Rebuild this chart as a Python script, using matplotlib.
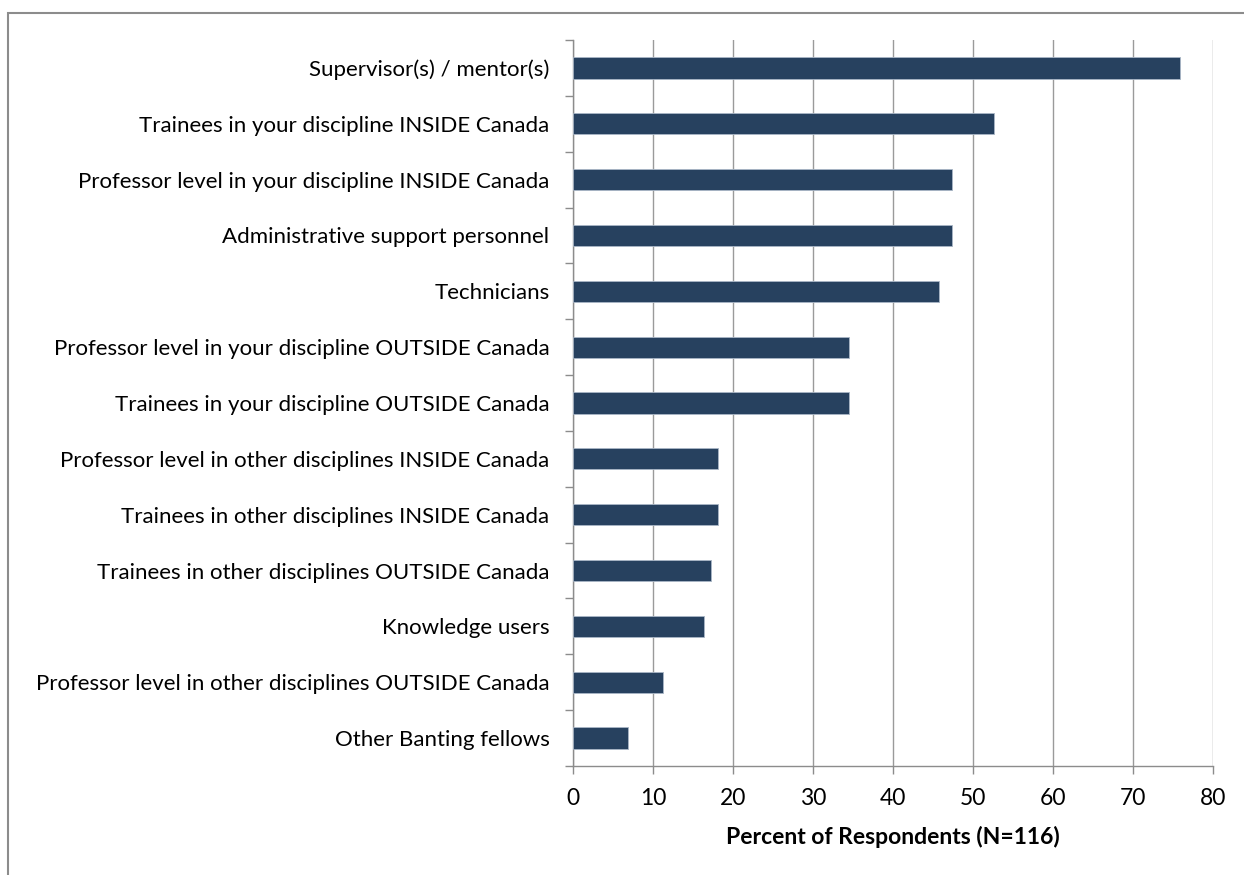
import matplotlib
matplotlib.use('agg')
import matplotlib.pyplot as plt
from matplotlib.patches import Rectangle
import numpy as np

categories = [
    'Supervisor(s) / mentor(s)',
    'Trainees in your discipline INSIDE Canada',
    'Professor level in your discipline INSIDE Canada',
    'Administrative support personnel',
    'Technicians',
    'Professor level in your discipline OUTSIDE Canada',
    'Trainees in your discipline OUTSIDE Canada',
    'Professor level in other disciplines INSIDE Canada',
    'Trainees in other disciplines INSIDE Canada',
    'Trainees in other disciplines OUTSIDE Canada',
    'Knowledge users',
    'Professor level in other disciplines OUTSIDE Canada',
    'Other Banting fellows',
]
percent = [75.9, 52.6, 47.4, 47.4, 45.7, 34.5, 34.5, 18.1, 18.1, 17.2, 16.4, 11.2, 6.9]
xticks = [0, 10, 20, 30, 40, 50, 60, 70, 80]
xlabel = 'Percent of Respondents (N=116)'

plt.rcParams['font.family'] = ['Lato', 'DejaVu Sans']

fig = plt.figure(figsize=(12.44, 8.75), dpi=100)
# outer chart frame (left and top edges visible)
fig.patches.append(Rectangle((8 / 1244, -0.05), 1.1, 1 - 13 / 875 + 0.05,
                             transform=fig.transFigure, fill=False,
                             edgecolor='#8c8c8c', linewidth=1.5))

ax = fig.add_axes([573 / 1244, 1 - 766 / 875, 640 / 1244, 726 / 875])
n = len(categories)
pos = np.arange(n)
ax.barh(pos, percent, height=0.38, color='#27415f', edgecolor='#a9b6c6',
        linewidth=0.6, zorder=3)
ax.set_ylim(n - 0.5, -0.5)
ax.set_xlim(0, 80)

ax.set_yticks(pos)
ax.set_yticklabels(categories, fontsize=16, color='#000000')
ax.set_yticks(np.arange(n + 1) - 0.5, minor=True)
ax.tick_params(axis='y', which='major', length=0, pad=17)
ax.tick_params(axis='y', which='minor', length=6, color='#8c8c8c', width=1)

ax.set_xticks(xticks)
ax.tick_params(axis='x', which='major', length=6, color='#8c8c8c', width=1,
               labelsize=16.5, pad=10)
ax.set_xlabel(xlabel, fontsize=16.5, fontweight='bold', labelpad=12)

ax.grid(axis='x', color='#9a9a9a', linewidth=1, zorder=0)
for s in ['top', 'right']:
    ax.spines[s].set_visible(False)
for s in ['left', 'bottom']:
    ax.spines[s].set_color('#8c8c8c')
    ax.spines[s].set_linewidth(1)

fig.savefig('out.png', dpi=100)
